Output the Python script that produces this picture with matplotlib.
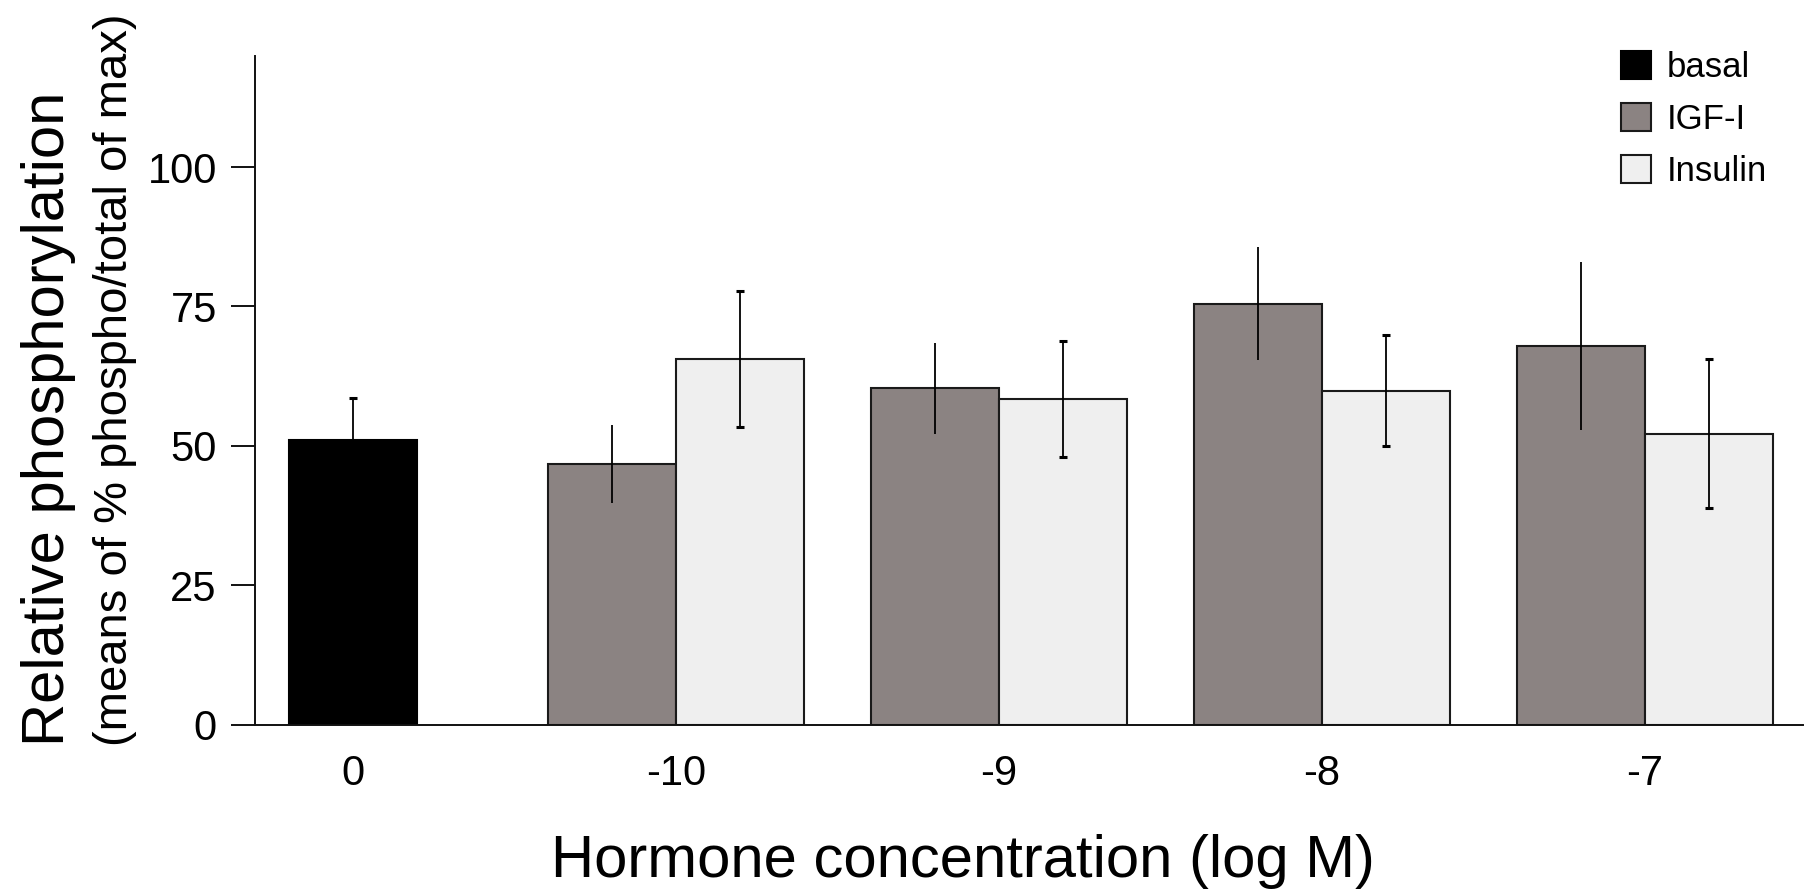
import matplotlib
matplotlib.use('Agg')
import matplotlib.pyplot as plt
import numpy as np

plt.rcParams['font.family'] = ['Liberation Sans', 'DejaVu Sans']

# ---- data ----
categories = ['0', '-10', '-9', '-8', '-7']
basal_value = [51.0]
basal_err = [7.5]
igf_values = [46.7, 60.3, 75.5, 67.9]
igf_err = [7.0, 8.1, 10.2, 15.0]
insulin_values = [65.5, 58.4, 59.9, 52.2]
insulin_err = [12.2, 10.4, 9.9, 13.4]
yticks = [0, 25, 50, 75, 100]
series_labels = ['basal', 'IGF-I', 'Insulin']

W, H = 1818, 891
fig = plt.figure(figsize=(W / 100, H / 100), dpi=100)
ax_left, ax_right, ax_bottom, ax_top = 255, 1803, 724.6, 55.5
ax = fig.add_axes([ax_left / W, 1 - ax_bottom / H, (ax_right - ax_left) / W, (ax_bottom - ax_top) / H])

w = 0.395
pos = np.arange(len(categories))
grp = pos[1:]

err_capped = dict(ecolor='black', elinewidth=1.3, capsize=3, capthick=2.2)
err_plain = dict(ecolor='black', elinewidth=1.3, capsize=0)

b_basal = ax.bar(pos[:1], basal_value, w, color='black', edgecolor='black', linewidth=1.5,
                 yerr=basal_err, error_kw=err_capped, label=series_labels[0])
b_igf = ax.bar(grp - w / 2, igf_values, w, color='#8b8382', edgecolor='#1a1a1a', linewidth=1.5,
               yerr=igf_err, error_kw=err_plain, label=series_labels[1])
b_ins = ax.bar(grp + w / 2, insulin_values, w, color='#efefef', edgecolor='#1a1a1a', linewidth=1.5,
               yerr=insulin_err, error_kw=err_capped, label=series_labels[2])

ax.set_ylim(0, 120)
ax.set_xlim(-0.303, 4.489)
ax.set_xticks(pos)
ax.set_xticklabels(categories)
ax.set_yticks(yticks)
ax.set_yticklabels([str(v) for v in yticks])

for s in ['top', 'right']:
    ax.spines[s].set_visible(False)
for s in ['left', 'bottom']:
    ax.spines[s].set_linewidth(1.4)
    ax.spines[s].set_color('#111111')

ax.tick_params(axis='y', length=17, width=1.4, pad=10.5, labelsize=30, direction='out', color='#111111')
ax.tick_params(axis='x', length=0, pad=21, labelsize=30)

# axis titles
fig.text(963 / W, 1 - 877 / H, 'Hormone concentration (log M)', fontsize=43,
         ha='center', va='baseline')
fig.text(49 / W, 1 - 746 / H, 'Relative phosphorylation', fontsize=43, rotation=90,
         ha='center', va='bottom')
fig.text(115 / W, 1 - 746 / H, '(means of % phospho/total of max)', fontsize=34, rotation=90,
         ha='center', va='bottom')

# legend
fs = 25
leg = ax.legend(handles=[b_basal, b_igf, b_ins], labels=series_labels, loc='upper left',
                bbox_to_anchor=(1621 / W, 1 - 51 / H), bbox_transform=fig.transFigure,
                frameon=False, fontsize=fs, handlelength=0.86, handleheight=0.86,
                handletextpad=0.45, labelspacing=0.55, borderpad=0, borderaxespad=0)

fig.savefig('out.png', dpi=100)
